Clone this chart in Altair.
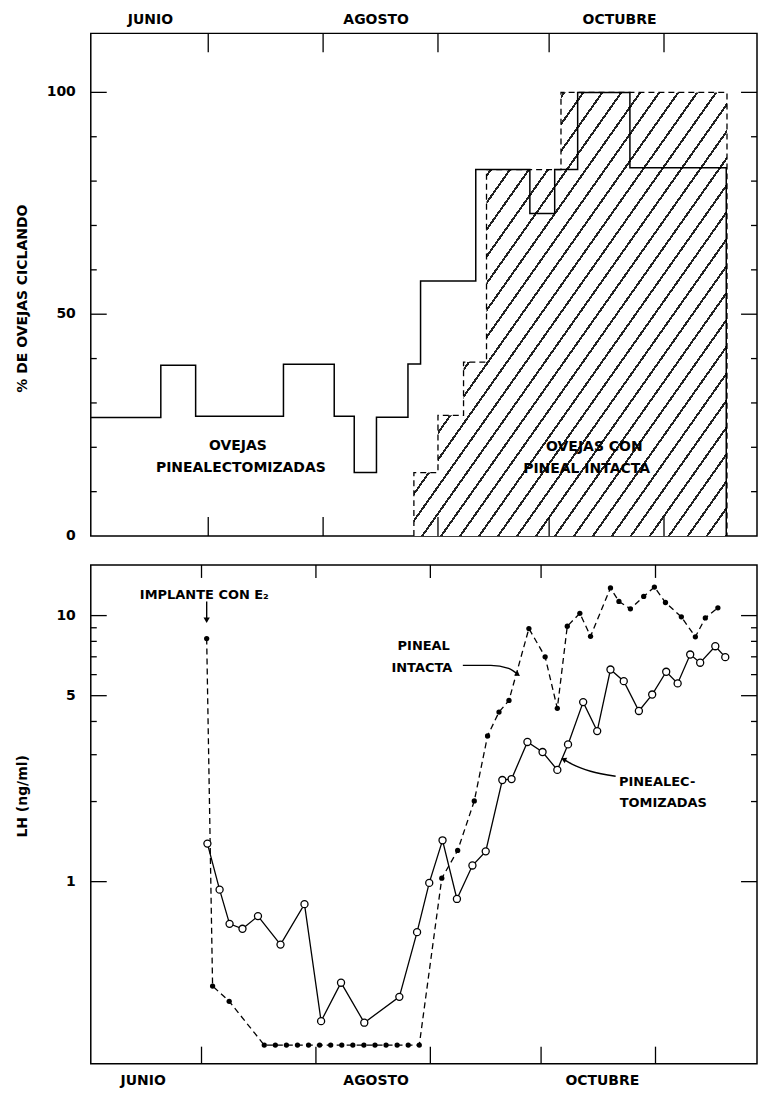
import altair as alt
import pandas as pd

# ---------------- data (days counted from 1 June) ----------------
# Top panel: % of ewes cycling (step series)
pin_step_day = [-1.7, 17.2, 26.6, 50.3, 64.0, 69.4, 75.4, 83.9, 87.3, 102.2, 116.8, 123.5, 129.7, 143.8, 169.8]
pin_step_pct = [26.7, 38.5, 27.0, 38.7, 27.0, 14.3, 26.8, 38.8, 57.5, 82.6, 72.7, 82.6, 100.0, 83.0, 0.0]
int_step_day = [85.5, 85.5, 92.0, 98.9, 105.1, 125.2, 170.0]
int_step_pct = [0.0, 14.3, 27.2, 39.2, 82.6, 100.0, 0.0]

# Bottom panel: LH (ng/ml), log scale
int_day = [31.4, 33.0, 37.5, 47, 50, 53, 56, 59, 62, 65, 68, 71, 74, 77, 80, 83, 86, 89,
           95.1, 99.4, 103.9, 107.5, 110.6, 113.3, 118.7, 123.1, 126.4, 129.1, 132.5, 135.4,
           140.8, 143.1, 146.2, 149.8, 152.7, 155.7, 160.0, 163.8, 166.5, 169.9]
int_lh = [8.2, 0.405, 0.355, 0.243, 0.243, 0.243, 0.243, 0.243, 0.243, 0.243, 0.243, 0.243,
          0.243, 0.243, 0.243, 0.243, 0.243, 0.243,
          1.03, 1.31, 2.01, 3.53, 4.34, 4.80, 8.94, 7.00, 4.48, 9.12, 10.2, 8.36,
          12.7, 11.3, 10.6, 11.8, 12.8, 11.2, 9.89, 8.32, 9.80, 10.7]
pin_day = [31.6, 34.9, 37.6, 41.1, 45.3, 51.4, 57.9, 62.4, 67.8, 74.1, 83.6, 88.4, 91.7, 95.3,
           99.2, 103.4, 107.0, 111.5, 114.0, 118.3, 122.4, 126.4, 129.3, 133.4, 137.2, 140.8,
           144.4, 148.5, 152.1, 155.9, 159.0, 162.4, 165.1, 169.2, 171.9]
pin_lh = [1.39, 0.933, 0.694, 0.665, 0.742, 0.580, 0.823, 0.299, 0.417, 0.295, 0.369, 0.646,
          0.989, 1.43, 0.861, 1.15, 1.30, 2.41, 2.43, 3.35, 3.07, 2.63, 3.28, 4.73, 3.68, 6.27,
          5.67, 4.38, 5.05, 6.15, 5.56, 7.14, 6.65, 7.67, 6.98]

# Month boundaries (ticks) and month label positions
month_edges = [30, 61, 92, 122, 153]
month_names = ["JUNIO", "AGOSTO", "OCTUBRE"]
month_mid_top = [14.4, 75.3, 141.0]
month_mid_bot = [14.2, 77.3, 138.6]

# Axis tick values
pct_major = [50, 100]
pct_minor = [10, 20, 30, 40, 60, 70, 80, 90]
pct_labels = [0, 50, 100]
lh_major = [1, 5, 10]
lh_minor = [2, 3, 4, 6, 7, 8, 9]
lh_labels = [1, 5, 10]

# Annotations
top_notes = ["OVEJAS", "PINEALECTOMIZADAS", "OVEJAS CON", "PINEAL INTACTA"]
top_notes_day = [38.0, 38.8, 134.2, 132.1]
top_notes_pct = [20.2, 15.4, 20.1, 15.1]

W = 668
H1 = 504
H2 = 500
FONT = "DejaVu Sans"

xs_top = alt.Scale(domain=[-1.7, 178.1], nice=False, zero=False)
xs_bot = alt.Scale(domain=[0, 180.5], nice=False, zero=False)
ys_top = alt.Scale(domain=[0, 113.3], nice=False, zero=False)
ys_bot = alt.Scale(type="log", domain=[0.207, 15.5], nice=False)

# ---------------- top panel ----------------
pin_step = pd.DataFrame({"d": pin_step_day, "v": pin_step_pct})
int_step = pd.DataFrame({"d": int_step_day, "v": int_step_pct})

stops = []
n_str = 33
for k in range(n_str):
    a = k / n_str
    b = (k + 0.87) / n_str
    c = (k + 1) / n_str
    stops += [alt.GradientStop(offset=a, color="white"),
              alt.GradientStop(offset=b, color="white"),
              alt.GradientStop(offset=b, color="#222222"),
              alt.GradientStop(offset=c, color="#222222")]
hatch = alt.LinearGradient(gradient="linear", stops=stops, x1=0, y1=0, x2=1, y2=1)

Xt = alt.X("d:Q", scale=xs_top, axis=None)
Yt = alt.Y("v:Q", scale=ys_top, axis=None)

hatch_area = alt.Chart(int_step).mark_area(interpolate="step-after", fill=hatch, opacity=1).encode(x=Xt, y=Yt)
int_line = alt.Chart(int_step).mark_line(interpolate="step-after", color="black", strokeWidth=1.3,
                                         strokeDash=[6, 4]).encode(x=Xt, y=Yt)
pin_line = alt.Chart(pin_step).mark_line(interpolate="step-after", color="black",
                                         strokeWidth=1.5).encode(x=Xt, y=Yt)

def yticks(vals, scale, x0, x1):
    df = pd.DataFrame({"v": vals})
    return alt.Chart(df).mark_rule(color="black", strokeWidth=1.3).encode(
        y=alt.Y("v:Q", scale=scale, axis=None), x=alt.value(x0), x2=alt.value(x1))

def xticks(vals, scale, y0, y1):
    df = pd.DataFrame({"d": vals})
    return alt.Chart(df).mark_rule(color="black", strokeWidth=1.3).encode(
        x=alt.X("d:Q", scale=scale, axis=None), y=alt.value(y0), y2=alt.value(y1))

def ylabels(vals, scale):
    df = pd.DataFrame({"v": vals, "t": [str(v) for v in vals]})
    return alt.Chart(df).mark_text(align="right", baseline="middle", font=FONT, fontSize=14,
                                   fontWeight="bold", color="black").encode(
        y=alt.Y("v:Q", scale=scale, axis=None), x=alt.value(-15), text="t:N")

def months(mids, scale, yv):
    df = pd.DataFrame({"d": mids, "t": month_names})
    return alt.Chart(df).mark_text(align="center", baseline="middle", font=FONT, fontSize=14,
                                   fontWeight="bold", color="black").encode(
        x=alt.X("d:Q", scale=scale, axis=None), y=alt.value(yv), text="t:N")

def ytitle(txt, yv):
    df = pd.DataFrame({"t": [txt]})
    return alt.Chart(df).mark_text(angle=270, align="center", baseline="middle", font=FONT,
                                   fontSize=14, fontWeight="bold", color="black").encode(
        x=alt.value(-68), y=alt.value(yv), text="t:N")

top_notes_df = pd.DataFrame({"d": top_notes_day, "v": top_notes_pct, "t": top_notes})
top_text = alt.Chart(top_notes_df).mark_text(align="center", baseline="middle", font=FONT,
                                             fontSize=14, fontWeight="bold", color="black").encode(
    x=Xt, y=Yt, text="t:N")

top = alt.layer(
    hatch_area, int_line, pin_line, top_text,
    yticks(pct_major, ys_top, 0, 16), yticks(pct_minor, ys_top, 0, 6),
    yticks(pct_major, ys_top, W - 16, W), yticks(pct_minor, ys_top, W - 6, W),
    xticks(month_edges, xs_top, 0, 19), xticks(month_edges, xs_top, H1 - 19, H1),
    ylabels(pct_labels, ys_top), months(month_mid_top, xs_top, -13),
    ytitle("% DE OVEJAS CICLANDO", 266),
).properties(width=W, height=H1)

# ---------------- bottom panel ----------------
Xb = alt.X("d:Q", scale=xs_bot, axis=None)
Yb = alt.Y("v:Q", scale=ys_bot, axis=None)

int_df = pd.DataFrame({"d": int_day, "v": int_lh})
pin_df = pd.DataFrame({"d": pin_day, "v": pin_lh})

int_l = alt.Chart(int_df).mark_line(color="black", strokeWidth=1.3, strokeDash=[6, 4]).encode(x=Xb, y=Yb)
int_p = alt.Chart(int_df).mark_point(shape="circle", filled=True, color="black", size=28,
                                     opacity=1).encode(x=Xb, y=Yb)
pin_l = alt.Chart(pin_df).mark_line(color="black", strokeWidth=1.3).encode(x=Xb, y=Yb)
pin_p = alt.Chart(pin_df).mark_point(shape="circle", filled=True, fill="white", stroke="black",
                                     strokeWidth=1.3, size=50, opacity=1).encode(x=Xb, y=Yb)

# annotation texts
bot_notes = pd.DataFrame({
    "t": ["IMPLANTE CON E₂", "PINEAL", "INTACTA", "PINEALEC-", "TOMIZADAS"],
    "d": [13.3, 90.2, 89.7, 143.1, 143.3],
    "v": [11.98, 7.67, 6.37, 2.36, 1.97],
    "a": ["left", "center", "center", "left", "left"],
})
bot_text_l = alt.Chart(bot_notes[bot_notes.a == "left"]).mark_text(
    align="left", baseline="middle", font=FONT, fontSize=13, fontWeight="bold", color="black"
).encode(x=Xb, y=Yb, text="t:N")
bot_text_c = alt.Chart(bot_notes[bot_notes.a == "center"]).mark_text(
    align="center", baseline="middle", font=FONT, fontSize=13, fontWeight="bold", color="black"
).encode(x=Xb, y=Yb, text="t:N")

# arrows
arrow1 = pd.DataFrame({"d": [31.4, 31.4], "v": [11.3, 9.6]})
arrow2 = pd.DataFrame({"d": [100.8, 108.4, 113.2, 115.7], "v": [6.50, 6.50, 6.33, 6.01]})
arrow3 = pd.DataFrame({"d": [142.2, 135.4, 130.5, 128.1], "v": [2.49, 2.60, 2.76, 2.88]})
a1 = alt.Chart(arrow1).mark_line(color="black", strokeWidth=1.4).encode(x=Xb, y=Yb)
a1h = alt.Chart(arrow1.tail(1)).mark_point(shape="triangle-down", filled=True, color="black",
                                           size=40, opacity=1).encode(x=Xb, y=Yb)
a2 = alt.Chart(arrow2).mark_line(color="black", strokeWidth=1.4, interpolate="monotone").encode(x=Xb, y=Yb, order="d:Q")
a2h = alt.Chart(arrow2.tail(1)).mark_point(shape="triangle-right", angle=35, filled=True,
                                           color="black", size=35, opacity=1).encode(x=Xb, y=Yb)
a3 = alt.Chart(arrow3).mark_line(color="black", strokeWidth=1.4, interpolate="monotone").encode(x=Xb, y=Yb, order="d:Q")
a3h = alt.Chart(arrow3.tail(1)).mark_point(shape="triangle-left", angle=25, filled=True,
                                           color="black", size=35, opacity=1).encode(x=Xb, y=Yb)

bottom = alt.layer(
    int_l, pin_l, int_p, pin_p, bot_text_l, bot_text_c, a1, a1h, a2, a2h, a3, a3h,
    yticks(lh_major, ys_bot, 0, 16), yticks(lh_minor, ys_bot, 0, 6),
    yticks(lh_major, ys_bot, W - 16, W), yticks(lh_minor, ys_bot, W - 6, W),
    xticks(month_edges, xs_bot, 0, 13), xticks(month_edges, xs_bot, H2 - 17, H2),
    ylabels(lh_labels, ys_bot), months(month_mid_bot, xs_bot, H2 + 17),
    ytitle("LH (ng/ml)", 232),
).properties(width=W, height=H2)

chart = alt.vconcat(top, bottom, spacing=29, bounds="flush").properties(
    padding={"left": 7, "top": 3, "right": 0, "bottom": 0},
    background="white",
).configure_view(stroke="black", strokeWidth=1.5)

chart.save("out.html", embed_options={"renderer": "svg", "actions": False})
